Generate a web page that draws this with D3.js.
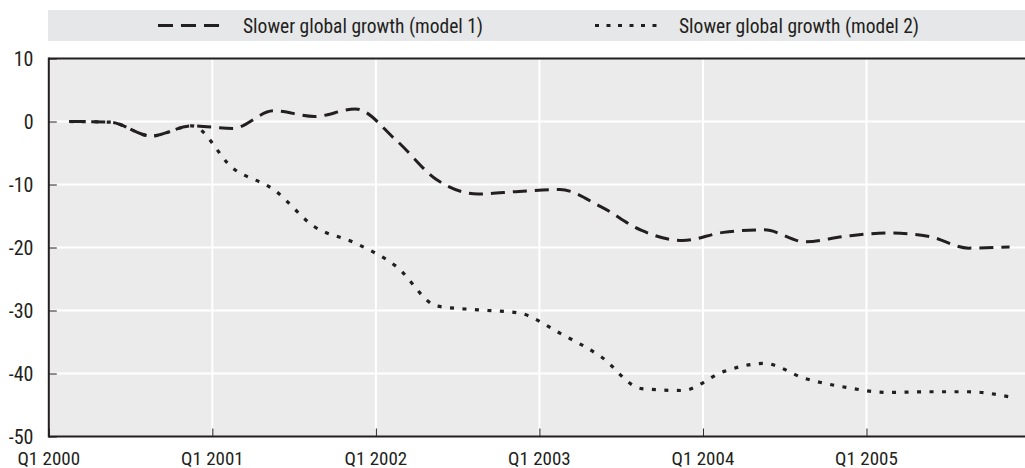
<!DOCTYPE html>
<html><head><meta charset="utf-8">
<script src="https://cdn.jsdelivr.net/npm/d3@7"></script>
<style>
body{margin:0;background:#fff;}
text{font-family:"Liberation Sans Narrow","Roboto Condensed","Arial Narrow",Roboto,sans-serif;fill:#231f20;}
</style></head><body>
<svg id="c" width="1025" height="468"></svg>
<script>
const quarters = ["Q1 2000","Q2 2000","Q3 2000","Q4 2000","Q1 2001","Q2 2001","Q3 2001","Q4 2001",
 "Q1 2002","Q2 2002","Q3 2002","Q4 2002","Q1 2003","Q2 2003","Q3 2003","Q4 2003",
 "Q1 2004","Q2 2004","Q3 2004","Q4 2004","Q1 2005","Q2 2005","Q3 2005","Q4 2005"];
const model1 = [0,-0.1,-2.3,-0.7,-1.1,1.7,0.8,2.0,-3.0,-9.3,-11.5,-11.1,-10.8,-13.5,-17.3,-18.9,-17.6,-17.2,-19.1,-18.2,-17.7,-18.2,-20.1,-19.9];
const model2 = [0,-0.1,-2.3,-0.7,-7.4,-10.8,-16.7,-19.3,-23.0,-29.3,-29.9,-30.4,-33.6,-37.3,-42.4,-42.7,-39.7,-38.4,-40.8,-42.2,-43.0,-42.9,-42.9,-43.7];
const seriesNames = ["Slower global growth (model 1)","Slower global growth (model 2)"];
const xTickLabels = ["Q1 2000","Q1 2001","Q1 2002","Q1 2003","Q1 2004","Q1 2005"];
const yTicks = [10,0,-10,-20,-30,-40,-50];

const svg = d3.select("#c");
const L=48.8, R=1030, T=58.5, B=436.5;
const x = d3.scaleLinear().domain([0,24]).range([L,R]);
const y = d3.scaleLinear().domain([-50,10]).range([B,T]);

// legend band
svg.append("rect").attr("x",48).attr("y",10).attr("width",977).attr("height",31).attr("fill","#e6e7e8");
const leg = [{x1:158,x2:225,tx:243,dash:"15,8",w:3},{x1:595,x2:662,tx:679,dash:"4,7.5",w:3}];
leg.forEach((l,i)=>{
  svg.append("line").attr("x1",l.x1).attr("x2",l.x2).attr("y1",25.5).attr("y2",25.5)
    .attr("stroke","#231f20").attr("stroke-width",l.w).attr("stroke-dasharray",l.dash);
  svg.append("text").attr("x",l.tx).attr("y",32.5).attr("font-size",19.5).text(seriesNames[i]);
});

// plot background
svg.append("rect").attr("x",L).attr("y",T).attr("width",1025-L).attr("height",B-T).attr("fill","#ebebeb");

// gridlines
svg.append("g").selectAll("line").data(yTicks.filter(v=>v>-50&&v<10)).join("line")
  .attr("x1",L).attr("x2",1025).attr("y1",d=>y(d)).attr("y2",d=>y(d))
  .attr("stroke","#fff").attr("stroke-width",2);
svg.append("g").selectAll("line").data(xTickLabels.slice(1)).join("line")
  .attr("x1",(d,i)=>x((i+1)*4)).attr("x2",(d,i)=>x((i+1)*4)).attr("y1",T).attr("y2",B)
  .attr("stroke","#fff").attr("stroke-width",2);

// axes
const yAxis = d3.axisRight(y).tickValues(yTicks).tickSize(8).tickFormat("");
const gy = svg.append("g").attr("transform",`translate(${L},0)`).call(yAxis);
gy.select(".domain").remove();
gy.selectAll("line").attr("stroke","#231f20").attr("stroke-width",1);
svg.append("g").selectAll("text").data(yTicks).join("text")
  .attr("x",33.5).attr("y",d=>y(d)+7).attr("text-anchor","end").attr("font-size",20).text(d=>d);

const xAxis = d3.axisTop(x).tickValues(d3.range(0,24,4)).tickSize(8).tickFormat("");
const gx = svg.append("g").attr("transform",`translate(0,${B})`).call(xAxis);
gx.select(".domain").remove();
gx.selectAll("line").attr("stroke","#231f20").attr("stroke-width",1);
svg.append("g").selectAll("text").data(xTickLabels).join("text")
  .attr("x",(d,i)=>x(i*4)).attr("y",464.5).attr("text-anchor","middle").attr("font-size",19).text(d=>d);

// frame lines
svg.append("line").attr("x1",L).attr("x2",1025).attr("y1",T).attr("y2",T).attr("stroke","#231f20").attr("stroke-width",2);
svg.append("line").attr("x1",L).attr("x2",1025).attr("y1",B).attr("y2",B).attr("stroke","#231f20").attr("stroke-width",2);
svg.append("line").attr("x1",L).attr("x2",L).attr("y1",T-1).attr("y2",B+1).attr("stroke","#231f20").attr("stroke-width",2);

// lines
const line = d3.line().x((d,i)=>x(i+0.5)).y(d=>y(d)).curve(d3.curveMonotoneX);
svg.append("path").datum(model2).attr("d",line).attr("fill","none")
  .attr("stroke","#231f20").attr("stroke-width",3.2).attr("stroke-dasharray","4,8.5");
svg.append("path").datum(model1).attr("d",line).attr("fill","none")
  .attr("stroke","#231f20").attr("stroke-width",3).attr("stroke-dasharray","14,8");
</script></body></html>
